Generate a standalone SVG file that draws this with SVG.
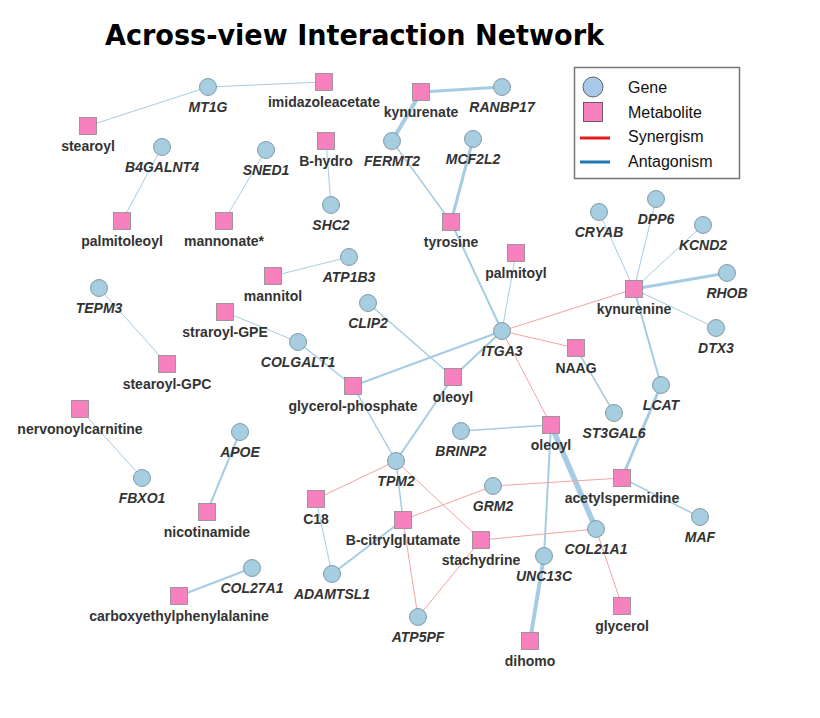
<svg xmlns="http://www.w3.org/2000/svg" width="820" height="718" viewBox="0 0 820 718">
<style>
.e{fill:none;stroke:#a6cce3;stroke-linecap:round}
.r{fill:none;stroke:#f5a3a3;stroke-width:1}
.w1{stroke-width:1}
.w15{stroke-width:1.5}
.w2{stroke-width:2}
.w3{stroke-width:3}
.w4{stroke-width:4}
.w5{stroke-width:5.5}
.g circle{fill:#a6cde0;stroke:#6f8796;stroke-width:0.8}
.m rect{fill:#f781bf;stroke:#8a8a8a;stroke-width:0.8}
.g text{font-family:"Liberation Sans",Arial,sans-serif;font-size:14px;font-weight:bold;font-style:italic;fill:#333;text-anchor:middle}
.m text{font-family:"Liberation Sans",Arial,sans-serif;font-size:14px;font-weight:bold;fill:#333;text-anchor:middle}
.lg{font-family:"Liberation Sans",Arial,sans-serif;font-size:16px;fill:#111}
</style>
<rect width="820" height="718" fill="#fff"/>
<text x="105" y="45" font-family="'DejaVu Sans',Verdana,sans-serif" font-weight="bold" font-size="28" textLength="499" lengthAdjust="spacingAndGlyphs" fill="#000">Across-view Interaction Network</text>

<g id="connectors">
<line class="e w1" x1="208" y1="87" x2="88" y2="126"/>
<line class="e w1" x1="208" y1="87" x2="324" y2="82"/>
<line class="e w3" x1="421" y1="92" x2="502" y2="87"/>
<line class="e w4" x1="421" y1="92" x2="392" y2="141"/>
<line class="e w1" x1="162" y1="147" x2="122" y2="221"/>
<line class="e w1" x1="266" y1="150" x2="224" y2="221"/>
<line class="e w1" x1="326" y1="141" x2="331" y2="205"/>
<line class="e w15" x1="392" y1="141" x2="451" y2="222"/>
<line class="e w3" x1="473" y1="139" x2="451" y2="222"/>
<line class="e w2" x1="451" y1="222" x2="502" y2="331"/>
<line class="e w1" x1="516" y1="253" x2="502" y2="331"/>
<line class="e w1" x1="634" y1="289" x2="599" y2="212"/>
<line class="e w1" x1="634" y1="289" x2="656" y2="199"/>
<line class="e w1" x1="634" y1="289" x2="703" y2="225"/>
<line class="e w3" x1="634" y1="289" x2="727" y2="273"/>
<line class="e w1" x1="634" y1="289" x2="716" y2="328"/>
<line class="e w2" x1="634" y1="289" x2="661" y2="385"/>
<line class="e w1" x1="273" y1="276" x2="349" y2="257"/>
<line class="e w1" x1="225" y1="312" x2="298" y2="342"/>
<line class="e w15" x1="298" y1="342" x2="353" y2="386"/>
<line class="e w1" x1="99" y1="288" x2="167" y2="364"/>
<line class="e w15" x1="368" y1="303" x2="453" y2="377"/>
<line class="e w2" x1="502" y1="331" x2="353" y2="386"/>
<line class="e w2" x1="502" y1="331" x2="453" y2="377"/>
<line class="e w2" x1="453" y1="377" x2="396" y2="461"/>
<line class="e w15" x1="353" y1="386" x2="396" y2="461"/>
<line class="e w15" x1="576" y1="348" x2="614" y2="413"/>
<line class="e w3" x1="661" y1="385" x2="622" y2="478"/>
<line class="e w1" x1="80" y1="409" x2="142" y2="478"/>
<line class="e w15" x1="461" y1="431" x2="551" y2="425"/>
<line class="e w5" x1="551" y1="425" x2="596" y2="529"/>
<line class="e w2" x1="551" y1="425" x2="544" y2="556"/>
<line class="e w4" x1="544" y1="556" x2="530" y2="641"/>
<line class="e w15" x1="622" y1="478" x2="700" y2="517"/>
<line class="e w2" x1="240" y1="432" x2="207" y2="512"/>
<line class="e w15" x1="396" y1="461" x2="403" y2="520"/>
<line class="e w1" x1="316" y1="499" x2="332" y2="574"/>
<line class="e w2" x1="403" y1="520" x2="332" y2="574"/>
<line class="e w2" x1="252" y1="568" x2="179" y2="596"/>
<line class="r" x1="502" y1="331" x2="634" y2="289"/>
<line class="r" x1="502" y1="331" x2="576" y2="348"/>
<line class="r" x1="502" y1="331" x2="551" y2="425"/>
<line class="r" x1="396" y1="461" x2="316" y2="499"/>
<line class="r" x1="396" y1="461" x2="481" y2="540"/>
<line class="r" x1="493" y1="486" x2="403" y2="520"/>
<line class="r" x1="493" y1="486" x2="622" y2="478"/>
<line class="r" x1="481" y1="540" x2="596" y2="529"/>
<line class="r" x1="403" y1="520" x2="418" y2="617"/>
<line class="r" x1="481" y1="540" x2="418" y2="617"/>
<line class="r" x1="596" y1="529" x2="622" y2="606"/>
</g>

<g id="MT1G" class="g"><circle cx="208" cy="87" r="8.5"/><text x="208" y="112">MT1G</text></g>
<g id="B4GALNT4" class="g"><circle cx="162" cy="147" r="8.5"/><text x="162" y="172">B4GALNT4</text></g>
<g id="SNED1" class="g"><circle cx="266" cy="150" r="8.5"/><text x="266" y="175">SNED1</text></g>
<g id="SHC2" class="g"><circle cx="331" cy="205" r="8.5"/><text x="331" y="230">SHC2</text></g>
<g id="FERMT2" class="g"><circle cx="392" cy="141" r="8.5"/><text x="392" y="166">FERMT2</text></g>
<g id="MCF2L2" class="g"><circle cx="473" cy="139" r="8.5"/><text x="473" y="164">MCF2L2</text></g>
<g id="RANBP17" class="g"><circle cx="502" cy="87" r="8.5"/><text x="502" y="112">RANBP17</text></g>
<g id="CRYAB" class="g"><circle cx="599" cy="212" r="8.5"/><text x="599" y="237">CRYAB</text></g>
<g id="DPP6" class="g"><circle cx="656" cy="199" r="8.5"/><text x="656" y="224">DPP6</text></g>
<g id="KCND2" class="g"><circle cx="703" cy="225" r="8.5"/><text x="703" y="250">KCND2</text></g>
<g id="RHOB" class="g"><circle cx="727" cy="273" r="8.5"/><text x="727" y="298">RHOB</text></g>
<g id="DTX3" class="g"><circle cx="716" cy="328" r="8.5"/><text x="716" y="353">DTX3</text></g>
<g id="ATP1B3" class="g"><circle cx="349" cy="257" r="8.5"/><text x="349" y="282">ATP1B3</text></g>
<g id="CLIP2" class="g"><circle cx="368" cy="303" r="8.5"/><text x="368" y="328">CLIP2</text></g>
<g id="COLGALT1" class="g"><circle cx="298" cy="342" r="8.5"/><text x="298" y="367">COLGALT1</text></g>
<g id="ITGA3" class="g"><circle cx="502" cy="331" r="8.5"/><text x="502" y="356">ITGA3</text></g>
<g id="TEPM3" class="g"><circle cx="99" cy="288" r="8.5"/><text x="99" y="313">TEPM3</text></g>
<g id="LCAT" class="g"><circle cx="661" cy="385" r="8.5"/><text x="661" y="410">LCAT</text></g>
<g id="ST3GAL6" class="g"><circle cx="614" cy="413" r="8.5"/><text x="614" y="438">ST3GAL6</text></g>
<g id="BRINP2" class="g"><circle cx="461" cy="431" r="8.5"/><text x="461" y="456">BRINP2</text></g>
<g id="APOE" class="g"><circle cx="240" cy="432" r="8.5"/><text x="240" y="457">APOE</text></g>
<g id="FBXO1" class="g"><circle cx="142" cy="478" r="8.5"/><text x="142" y="503">FBXO1</text></g>
<g id="TPM2" class="g"><circle cx="396" cy="461" r="8.5"/><text x="396" y="486">TPM2</text></g>
<g id="GRM2" class="g"><circle cx="493" cy="486" r="8.5"/><text x="493" y="511">GRM2</text></g>
<g id="COL21A1" class="g"><circle cx="596" cy="529" r="8.5"/><text x="596" y="554">COL21A1</text></g>
<g id="MAF" class="g"><circle cx="700" cy="517" r="8.5"/><text x="700" y="542">MAF</text></g>
<g id="UNC13C" class="g"><circle cx="544" cy="556" r="8.5"/><text x="544" y="581">UNC13C</text></g>
<g id="ADAMTSL1" class="g"><circle cx="332" cy="574" r="8.5"/><text x="332" y="599">ADAMTSL1</text></g>
<g id="COL27A1" class="g"><circle cx="252" cy="568" r="8.5"/><text x="252" y="593">COL27A1</text></g>
<g id="ATP5PF" class="g"><circle cx="418" cy="617" r="8.5"/><text x="418" y="642">ATP5PF</text></g>

<g id="imidazoleacetate" class="m"><rect x="315.5" y="73.5" width="17" height="17"/><text x="324" y="107">imidazoleacetate</text></g>
<g id="kynurenate" class="m"><rect x="412.5" y="83.5" width="17" height="17"/><text x="421" y="117">kynurenate</text></g>
<g id="stearoyl" class="m"><rect x="79.5" y="117.5" width="17" height="17"/><text x="88" y="151">stearoyl</text></g>
<g id="B-hydro" class="m"><rect x="317.5" y="132.5" width="17" height="17"/><text x="326" y="166">B-hydro</text></g>
<g id="palmitoleoyl" class="m"><rect x="113.5" y="212.5" width="17" height="17"/><text x="122" y="246">palmitoleoyl</text></g>
<g id="mannonate" class="m"><rect x="215.5" y="212.5" width="17" height="17"/><text x="224" y="246">mannonate*</text></g>
<g id="tyrosine" class="m"><rect x="442.5" y="213.5" width="17" height="17"/><text x="451" y="247">tyrosine</text></g>
<g id="palmitoyl" class="m"><rect x="507.5" y="244.5" width="17" height="17"/><text x="516" y="278">palmitoyl</text></g>
<g id="kynurenine" class="m"><rect x="625.5" y="280.5" width="17" height="17"/><text x="634" y="314">kynurenine</text></g>
<g id="mannitol" class="m"><rect x="264.5" y="267.5" width="17" height="17"/><text x="273" y="301">mannitol</text></g>
<g id="straroyl-GPE" class="m"><rect x="216.5" y="303.5" width="17" height="17"/><text x="225" y="337">straroyl-GPE</text></g>
<g id="NAAG" class="m"><rect x="567.5" y="339.5" width="17" height="17"/><text x="576" y="373">NAAG</text></g>
<g id="stearoyl-GPC" class="m"><rect x="158.5" y="355.5" width="17" height="17"/><text x="167" y="389">stearoyl-GPC</text></g>
<g id="glycerol-phosphate" class="m"><rect x="344.5" y="377.5" width="17" height="17"/><text x="353" y="411">glycerol-phosphate</text></g>
<g id="oleoyl-1" class="m"><rect x="444.5" y="368.5" width="17" height="17"/><text x="453" y="402">oleoyl</text></g>
<g id="nervonoylcarnitine" class="m"><rect x="71.5" y="400.5" width="17" height="17"/><text x="80" y="434">nervonoylcarnitine</text></g>
<g id="oleoyl-2" class="m"><rect x="542.5" y="416.5" width="17" height="17"/><text x="551" y="450">oleoyl</text></g>
<g id="acetylspermidine" class="m"><rect x="613.5" y="469.5" width="17" height="17"/><text x="622" y="503">acetylspermidine</text></g>
<g id="C18" class="m"><rect x="307.5" y="490.5" width="17" height="17"/><text x="316" y="524">C18</text></g>
<g id="nicotinamide" class="m"><rect x="198.5" y="503.5" width="17" height="17"/><text x="207" y="537">nicotinamide</text></g>
<g id="B-citrylglutamate" class="m"><rect x="394.5" y="511.5" width="17" height="17"/><text x="403" y="545">B-citrylglutamate</text></g>
<g id="stachydrine" class="m"><rect x="472.5" y="531.5" width="17" height="17"/><text x="481" y="565">stachydrine</text></g>
<g id="carboxyethylphenylalanine" class="m"><rect x="170.5" y="587.5" width="17" height="17"/><text x="179" y="621">carboxyethylphenylalanine</text></g>
<g id="glycerol" class="m"><rect x="613.5" y="597.5" width="17" height="17"/><text x="622" y="631">glycerol</text></g>
<g id="dihomo" class="m"><rect x="521.5" y="632.5" width="17" height="17"/><text x="530" y="666">dihomo</text></g>

<g id="legend">
<rect x="574.5" y="67.5" width="165" height="111" fill="#fff" stroke="#777" stroke-width="1.5"/>
<circle cx="593" cy="87" r="10" fill="#a8c8e8" stroke="#444" stroke-width="0.8"/>
<rect x="583.5" y="102.5" width="19" height="19" fill="#f781bf" stroke="#444" stroke-width="0.8"/>
<line x1="580" y1="138" x2="610" y2="138" stroke="#e41a1c" stroke-width="3"/>
<line x1="580" y1="162" x2="610" y2="162" stroke="#1f78b4" stroke-width="3"/>
<text class="lg" x="628" y="93">Gene</text>
<text class="lg" x="628" y="118">Metabolite</text>
<text class="lg" x="628" y="142">Synergism</text>
<text class="lg" x="628" y="167">Antagonism</text>
</g>
</svg>
